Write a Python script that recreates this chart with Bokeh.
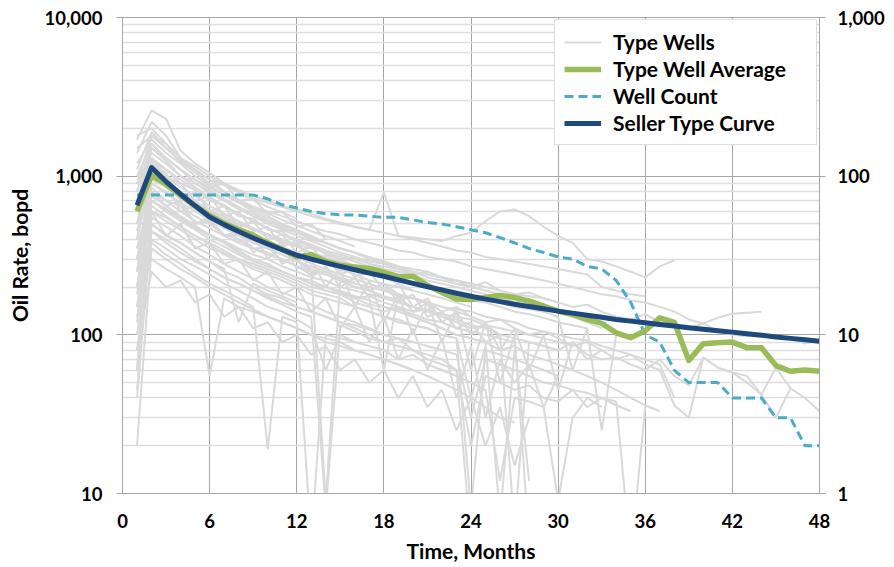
from bokeh.plotting import figure
from bokeh.models import (Range1d, LogScale, LogAxis, FixedTicker, SingleIntervalTicker,
                          NumeralTickFormatter, Legend, LegendItem)
from bokeh.embed import file_html
from bokeh.resources import INLINE

months = list(range(1, 49))

seller_type_curve = [655, 1133, 925, 770, 650, 553, 495, 448, 408, 374, 344, 318,
                     300, 284, 270, 257, 245, 234, 222, 211, 201, 192, 183, 175,
                     168, 162, 156, 151, 146, 141, 137, 133, 129, 125, 122, 119,
                     116, 113.5, 111, 108.5, 106, 104, 101.5, 99.5, 97, 95, 93, 91]

type_well_average = [600, 1010, 890, 760, 650, 565, 505, 460, 425, 380, 345, 310,
                     320, 290, 275, 268, 262, 248, 232, 234, 205, 185, 168, 167,
                     172, 177, 172, 163, 152, 141, 134, 125, 118, 103, 96, 106,
                     128, 120, 69, 88, 89, 90, 83, 83, 64, 59, 60, 59]

well_count = [76, 76, 76, 76, 76, 76, 76, 76, 76, 72, 66, 63,
              60, 58, 57, 57, 56, 55, 55, 53, 51, 50, 48, 46,
              44, 41, 38, 35, 33, 31, 30, 27, 26, 22, 16, 10,
              9, 6, 5, 5, 5, 4, 4, 4, 3, 3, 2, 2]

type_wells = [
    [450, 1050, 900, 780, 690, 610, 560, 500, 470, 430, 400, 370, 350, 330, 300, 310, 280, 270, 260, 240, 250, 230, 210, 200,
     215, 190, 180, 185, 170, 160, 150, 155, 140, 130, 125, 135, 120, 115, 110, 118, 105, 100, 98, 102, 95, 96, 88, 92],
    [120, 700, 620, 540, 470, 420, 380, 330, 300, 280, 250, 230, 220, 200, 185, 170, 175, 160, 150, 140, 145, 130, 120, 110,
     115, 100, 95, 90, 85, 80, 90, 75, 70, 72, 65, 60, 70, 55, 48, 72, 62, 58, 50, 42, 62, 46, 40, 33],
    [300, 900, 800, 650, 560, 500, 430, 400, 350, 330, 300, 270, 240, 250, 220, 200, 190, 210, 180, 170, 160, 140, 150, 130,
     120, 125, 110, 100, 105, 95, 85, 90, 80, 70, 75, 65, 60, 36, 30, 72, 62, 58, 55, 42, 30, 46],
    [500, 1500, 1300, 1100, 950, 850, 760, 700, 640, 600, 560, 520, 480, 450, 430, 400, 380, 360, 340, 330, 310, 300, 290, 270,
     260, 250, 240, 230, 220, 210, 200, 190, 180, 175, 165, 160, 150, 140, 125, 118, 128, 136, 138, 140],
    [900, 1800, 1500, 1250, 1100, 950, 880, 800, 720, 680, 640, 600, 560, 530, 500, 480, 460, 440, 420, 410, 400, 390, 420, 440,
     520, 600, 617, 560, 480, 420, 380, 300, 290, 270, 250, 230, 270, 295],
    [200, 800, 700, 600, 520, 470, 420, 380, 350, 320, 300, 270, 250, 240, 225, 210, 200, 190, 175, 170, 160, 150, 145, 140,
     130, 125, 120, 110, 105, 100, 95, 92, 85, 80, 75, 70, 65, 40],
    [60, 600, 550, 480, 420, 380, 340, 300, 280, 260, 240, 220, 200, 190, 180, 160, 150, 140, 150, 130, 120, 110, 100, 95,
     90, 80, 85, 75, 70, 65, 60, 55, 50, 45, 40, 36, 33],
    [1700, 2600, 2300, 1450, 1200, 1050, 900, 820, 750, 700, 650, 620, 580, 540, 510, 480, 460, 790, 420, 400, 380, 360, 340, 330,
     310, 300, 290, 280, 270, 260, 250, 240, 200, 190, 180, 175],
    [40, 500, 420, 380, 330, 290, 250, 230, 200, 180, 170, 150, 140, 130, 120, 110, 100, 90, 95, 80, 75, 70, 60, 20,
     55, 50, 45, 48, 40, 38, 45, 35, 40, 36, 33],
    [250, 1200, 1000, 850, 750, 650, 580, 520, 470, 430, 390, 360, 330, 300, 280, 270, 250, 240, 220, 210, 200, 185, 175, 165,
     160, 150, 140, 135, 128, 120, 115, 110, 25, 100],
    [1000, 1600, 1300, 1100, 900, 800, 700, 620, 560, 500, 460, 420, 390, 360, 330, 310, 290, 280, 260, 250, 230, 220, 210, 200,
     190, 180, 170, 160, 150, 140, 130, 120, 110],
    [80, 400, 350, 300, 270, 240, 210, 190, 170, 150, 140, 125, 110, 60, 100, 90, 85, 80, 70, 75, 65, 60, 55, 50,
     45, 12, 40, 38, 35, 9, 30, 40, 35],
    [1800, 2000, 1600, 1300, 1100, 950, 800, 700, 620, 560, 500, 460, 420, 380, 350, 330, 300, 280, 270, 250, 240, 230, 220, 210,
     200, 190, 180, 175, 170, 160],
    [150, 650, 560, 480, 420, 370, 320, 290, 260, 240, 220, 200, 180, 170, 160, 150, 140, 130, 120, 115, 110, 100, 95, 8,
     80, 75, 70, 65, 60, 55],
    [400, 1000, 850, 720, 620, 540, 480, 430, 390, 350, 320, 290, 260, 240, 220, 200, 190, 175, 165, 150, 140, 130, 125, 115,
     110, 100, 6, 90, 85, 80],
    [20, 350, 300, 260, 230, 200, 180, 160, 145, 130, 120, 110, 100, 95, 90, 80, 75, 70, 65, 60, 55, 50, 45, 40,
     35, 30, 28],
    [700, 1300, 1100, 950, 820, 720, 640, 580, 520, 470, 430, 400, 370, 340, 320, 300, 280, 260, 250, 240, 220, 210, 200, 190,
     180, 170, 160],
    [300, 750, 650, 560, 490, 420, 380, 340, 300, 280, 250, 230, 210, 190, 180, 170, 155, 150, 140, 130, 120, 110, 100, 95,
     90, 7, 80],
    [1200, 1700, 1400, 1200, 1000, 870, 760, 680, 600, 540, 490, 450, 410, 380, 350, 330, 300, 290, 270, 250, 240, 230, 220, 210],
    [100, 450, 400, 350, 300, 260, 230, 210, 190, 170, 155, 140, 130, 8, 115, 105, 95, 90, 85, 80, 70, 65, 60, 5],
    [600, 1100, 950, 800, 700, 600, 540, 480, 430, 390, 360, 330, 300, 280, 260, 240, 220, 210, 200, 190, 180, 170, 160, 150],
    [45, 550, 480, 420, 360, 320, 280, 250, 225, 200, 185, 170, 155, 140, 130, 120, 110, 100, 95, 90],
    [900, 1400, 1200, 1000, 850, 740, 650, 580, 520, 470, 430, 390, 360, 330, 310, 290, 270, 255, 240, 230],
    [200, 300, 260, 230, 200, 55, 170, 150, 140, 130, 120, 110, 100, 90, 85, 80, 75, 70, 65, 60],
    [1100, 1900, 1500, 1250, 1050, 900, 800, 710, 640, 580, 530, 490, 450, 420, 390, 360],
    [130, 380, 320, 280, 240, 210, 190, 170, 150, 19, 130, 120, 5, 100, 95, 90],
    [500, 900, 780, 680, 600, 530, 470, 420, 380, 350, 320, 290, 270, 250, 230, 215],
    [800, 1600, 1300, 1100, 950, 820, 720, 640, 580, 520, 480, 440],
    [250, 500, 430, 380, 330, 290, 260, 120, 210, 190, 175, 160],
    [1400, 2200, 1800, 1300, 1150, 1000, 880, 790, 710, 640, 590, 540],
    [180, 600, 420, 500, 350, 380, 280, 300, 220, 250, 180, 200, 140, 170, 110, 150, 90, 130, 70, 110, 60, 95, 40, 85,
     30, 70, 50, 65, 35, 55],
    [350, 800, 650, 700, 500, 550, 420, 450, 330, 380, 280, 310, 230, 270, 200, 230, 170, 60, 180, 140, 160, 120, 140, 100,
     120, 80, 110, 60, 100, 45, 90, 70, 80],
    [600, 1000, 900, 600, 650, 500, 550, 380, 450, 300, 380, 260, 300, 200, 260, 150, 220, 120, 180, 100, 160, 90, 140, 60,
     120, 50, 100, 5],
    [80, 250, 200, 220, 160, 180, 130, 150, 110, 120, 90, 100, 75, 85, 60, 70, 50, 60, 40, 55, 35, 45, 25, 40,
     20, 35, 15, 30],
    [150, 450, 380, 330, 290, 260, 230, 210, 190, 175, 160, 150, 140, 130, 120, 115, 108, 100, 95, 90, 85, 80, 75, 30,
     70, 65, 60, 55, 50, 48, 45, 43, 40, 38, 4, 35],
    [900, 1200, 1050, 700, 800, 600, 650, 480, 520, 400, 430, 330, 360, 280, 300, 230, 250, 190, 210, 150, 170, 120],
    [400, 1300, 1000, 900, 700, 750, 560, 600, 450, 480, 360, 390, 290, 310, 240, 260, 190, 210, 160, 180, 130, 140, 110, 120,
     90, 100],
    [250, 850, 700, 650, 500, 520, 420, 430, 350, 360, 290, 300, 250, 9, 220, 200, 190, 170],
    [700, 1500, 1250, 1000, 900, 780, 700, 620, 560, 520, 470, 440, 400, 380, 350, 330, 310, 290, 270, 260, 250, 230, 220, 200,
     190, 180, 160, 170, 150],
    [1500, 1800, 1600, 1200, 1100, 850, 900, 700, 720, 580, 600, 480, 500, 400],
    [300, 600, 520, 460, 400, 350, 330, 300, 270, 250, 230, 210, 190, 180, 170, 150, 140, 130, 125, 115, 110, 100, 95, 40,
     85],
    [500, 1100, 900, 780, 680, 600, 540, 500, 460, 420, 380, 360, 330, 310, 290, 270, 260, 240, 230, 215, 200, 195, 185, 175,
     165, 160, 150, 145, 140, 130, 60, 110],
    [1000, 1250, 1100, 900, 820, 700, 660, 560, 540, 460, 450, 380, 370, 320, 300, 270, 250, 230, 210, 190],
    [200, 700, 600, 520, 460, 400, 360, 320, 290, 270, 250, 230, 210, 200, 190, 175, 165, 150, 145, 135, 125, 120, 110, 105,
     100, 95, 90, 12],
    [600, 950, 850, 720, 640, 560, 500, 450, 410, 370, 340, 310, 280, 260, 240, 225, 210, 195, 180, 170, 160, 150, 140, 130],
    [350, 700, 620, 550, 480, 430, 390, 350, 320, 300, 270, 250, 230, 220, 200, 190, 180, 170, 160, 150, 140, 135, 130, 125,
     115, 110, 105, 100, 95, 90, 85],
    [60, 1000, 850, 750, 650, 580, 520, 470, 420, 380, 350, 320, 300, 280, 260, 240],
]

FONT = "Lato"
GRID = "#a6a6a6"
MINOR = "#dedede"

p = figure(width=894, height=567, y_axis_type="log",
           x_range=Range1d(0, 48), y_range=Range1d(10, 10000),
           output_backend="svg", toolbar_location=None,
           min_border_left=122, min_border_right=75,
           min_border_top=17, min_border_bottom=74)
p.outline_line_color = GRID
p.extra_y_ranges = {"count": Range1d(1, 1000)}
p.extra_y_scales = {"count": LogScale()}

xs = [months[:len(w)] for w in type_wells]
r_wells = p.multi_line(xs, type_wells, line_color="#d9d9d9", line_width=2)
r_count = p.line(months, well_count, y_range_name="count", line_color="#4bacc6",
                 line_width=3, line_dash="9 5")
r_avg = p.line(months, type_well_average, line_color="#9bbb59", line_width=5.5,
               line_join="round")
r_seller = p.line(months, seller_type_curve, line_color="#1f497d", line_width=5,
                  line_join="round")

left_minor = [m * 10 ** e for e in (1, 2, 3) for m in range(2, 10)]
left_ticker = FixedTicker(ticks=[10, 100, 1000, 10000], minor_ticks=left_minor)
right_minor = [m * 10 ** e for e in (0, 1, 2) for m in range(2, 10)]
right_ticker = FixedTicker(ticks=[1, 10, 100, 1000], minor_ticks=right_minor)

yax = p.yaxis[0]
yax.ticker = left_ticker
yax.formatter = NumeralTickFormatter(format="0,0")
p.ygrid.ticker = left_ticker
p.ygrid.grid_line_color = GRID
p.ygrid.minor_grid_line_color = MINOR
p.ygrid.minor_grid_line_width = 1.5

xax = p.xaxis[0]
xax.ticker = SingleIntervalTicker(interval=6, num_minor_ticks=0)
p.xgrid.ticker = SingleIntervalTicker(interval=6, num_minor_ticks=0)
p.xgrid.grid_line_color = GRID

rax = LogAxis(y_range_name="count", ticker=right_ticker,
              formatter=NumeralTickFormatter(format="0,0"))
p.add_layout(rax, "right")

for ax in (xax, yax, rax):
    ax.axis_line_color = GRID
    ax.major_tick_line_color = GRID
    ax.minor_tick_line_color = None
    ax.major_tick_in = 0
    ax.major_label_text_font = FONT
    ax.major_label_text_font_style = "bold"
    ax.major_label_text_font_size = "18.5px"
    ax.major_label_text_color = "#000000"
    ax.axis_label_text_font = FONT
    ax.axis_label_text_font_style = "bold"
    ax.axis_label_text_font_size = "21px"
    ax.axis_label_text_color = "#000000"

xax.major_tick_out = 0
xax.major_label_standoff = 20
xax.axis_label = "Time, Months"
xax.axis_label_standoff = 7
yax.major_tick_out = 6
yax.major_label_standoff = 14
yax.axis_label = "Oil Rate, bopd"
yax.axis_label_standoff = 10
rax.major_tick_out = 6
rax.major_label_standoff = 12

legend = Legend(items=[
    LegendItem(label="Type Wells", renderers=[r_wells]),
    LegendItem(label="Type Well Average", renderers=[r_avg]),
    LegendItem(label="Well Count", renderers=[r_count]),
    LegendItem(label="Seller Type Curve", renderers=[r_seller]),
], location="top_right")
legend.margin = 2
legend.padding = 9
legend.spacing = 2
legend.glyph_width = 37
legend.glyph_height = 20
legend.label_height = 24
legend.label_width = 194
legend.label_standoff = 12
legend.label_text_font = FONT
legend.label_text_font_style = "bold"
legend.label_text_font_size = "21px"
legend.label_text_color = "#000000"
legend.border_line_color = "#bfbfbf"
legend.background_fill_color = "white"
legend.background_fill_alpha = 1
p.add_layout(legend)

open("out.html", "w").write(file_html(p, INLINE))
